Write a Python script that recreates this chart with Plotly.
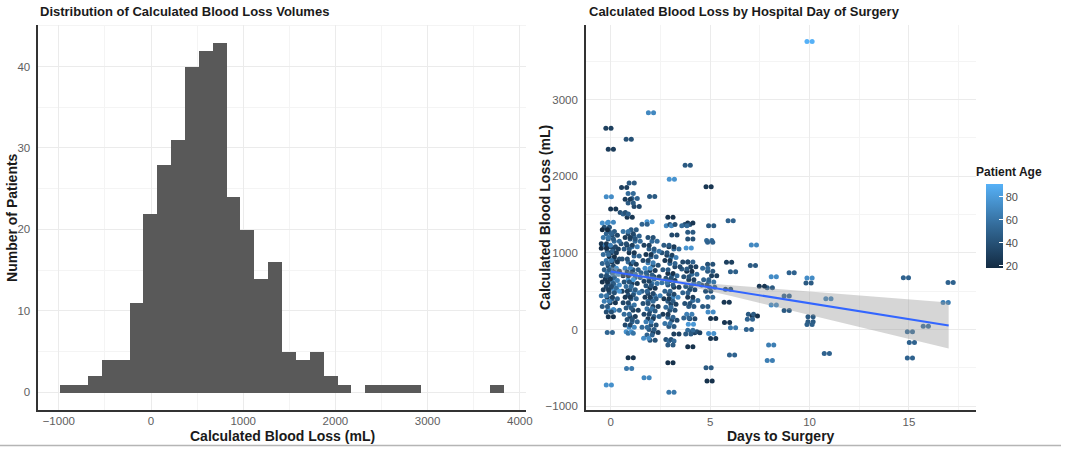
import numpy as np
import plotly.graph_objects as go

# ---------------- Histogram data ----------------
bin_start = -982.0
bin_width = 150.4
hist_counts = [1, 1, 2, 4, 4, 11, 22, 28, 31, 40, 42, 43, 24, 20, 14, 16, 5, 4, 5, 2, 1,
               0, 1, 1, 1, 1, 0, 0, 0, 0, 0, 1]
hist_xticks = [-1000, 0, 1000, 2000, 3000, 4000]
hist_yticks = [0, 10, 20, 30, 40]

# ---------------- Scatter data (jittered day, blood loss mL, age) ----------------
day0_x = [-0.12, 0.0, -0.1, 0.12, -0.3, 0.0, -0.2, -0.3, 0.05, -0.1,
          0.2, -0.25, 0.0, 0.3, -0.35, -0.15, 0.1, -0.35, 0.25, -0.05,
          0.15, -0.25, 0.05, 0.3, -0.1, 0.2, -0.3, 0.0, 0.15, -0.2,
          0.3, -0.05, 0.25, -0.35, 0.05, -0.15, 0.2, -0.3, 0.0, 0.3,
          -0.1, 0.15, -0.25, 0.3, 0.05, -0.35, -0.05, 0.2, -0.2, 0.1,
          -0.3, 0.0, 0.3, -0.1, 0.0, -0.05, -0.1]
day0_y = [2626, 2351, 1732, 1571, 1390, 1398, 1333, 1300, 1280, 1250,
          1230, 1200, 1180, 1150, 1120, 1100, 1080, 1060, 1050, 1020,
          1000, 980, 950, 920, 900, 880, 860, 830, 800, 780,
          760, 740, 720, 700, 680, 660, 640, 620, 600, 580,
          560, 540, 520, 500, 480, 440, 420, 400, 370, 350,
          300, 260, 250, 230, 165, -39, -723]
day0_age = [30, 28, 72, 25, 75, 70, 40, 18, 45, 50,
            35, 60, 45, 55, 25, 65, 35, 20, 30, 48,
            28, 55, 22, 40, 62, 25, 50, 35, 75, 45,
            30, 58, 80, 40, 52, 26, 65, 22, 45, 70,
            35, 55, 28, 78, 40, 60, 30, 50, 65, 25,
            45, 72, 55, 38, 22, 52, 74]

day1_x = [0.9, 1.05, 0.67, 1.0, 1.2, 0.85, 1.0, 1.3, 0.6, 0.75,
          0.95, 1.15, 0.75, 1.0, 1.3, 0.85, 1.1, 1.35, 0.65, 0.95,
          1.2, 0.8, 1.05, 1.3, 0.7, 1.0, 1.15, 0.85, 1.25, 0.95,
          1.1, 0.75, 1.35, 1.0, 0.8, 1.2, 0.9, 1.1, 0.7, 1.3,
          1.0, 0.85, 1.15, 0.75, 1.05, 0.9, 1.25, 0.8, 1.1, 0.95,
          1.2, 0.85, 1.05, 0.9, 1.0, 1.0, 0.92]
day1_y = [2483, 1911, 1853, 1775, 1710, 1700, 1650, 1606, 1528, 1506,
          1463, 1300, 1280, 1250, 1220, 1200, 1180, 1150, 1120, 1100,
          1080, 1050, 1000, 960, 920, 880, 850, 800, 780, 750,
          720, 700, 680, 650, 620, 600, 560, 520, 500, 480,
          450, 420, 400, 350, 320, 280, 250, 200, 170, 130,
          100, 60, 30, -30, -50, -368, -507]
day1_age = [40, 45, 30, 55, 50, 28, 45, 35, 40, 50,
            25, 45, 60, 35, 50, 28, 42, 55, 38, 30,
            65, 45, 25, 50, 40, 55, 30, 70, 45, 35,
            60, 22, 50, 80, 40, 28, 55, 45, 30, 65,
            40, 25, 50, 35, 60, 45, 30, 55, 28, 40,
            50, 35, 70, 75, 60, 22, 62]

day2_x = [2.02, 2.08, 1.95, 1.7, 2.0, 2.2, 1.8, 2.05, 2.3, 1.9,
          2.15, 1.75, 2.0, 2.25, 1.85, 2.1, 1.65, 1.95, 2.3, 2.05,
          1.8, 2.2, 1.9, 2.1, 1.7, 2.0, 2.35, 1.85, 2.15, 2.0,
          1.75, 2.25, 1.95, 2.1, 1.8, 2.3, 2.0, 1.9, 2.15, 1.7,
          2.05, 2.25, 1.95, 1.78, 2.1, 1.8]
day2_y = [2827, 1736, 1407, 1372, 1200, 1150, 1100, 1050, 1020, 980,
          950, 900, 870, 840, 800, 770, 740, 710, 690, 660,
          630, 600, 570, 540, 500, 470, 440, 420, 400, 370,
          340, 300, 270, 240, 200, 170, 140, 100, 60, 30,
          0, -40, -70, -113, -140, -628]
day2_age = [70, 45, 78, 50, 40, 55, 30, 45, 60, 25,
            50, 35, 65, 40, 75, 28, 50, 45, 35, 55,
            30, 60, 42, 25, 50, 35, 65, 28, 45, 55,
            40, 30, 60, 45, 35, 50, 28, 65, 40, 55,
            45, 30, 50, 72, 40, 70]

day3_x = [3.07, 3.0, 2.92, 3.1, 3.2, 2.8, 3.05, 3.3, 2.7, 2.95,
          3.15, 2.85, 3.1, 3.35, 2.75, 3.0, 3.2, 2.9, 3.1, 2.7,
          3.0, 3.3, 2.85, 3.05, 3.25, 2.8, 3.0, 3.15, 2.9, 3.1,
          2.75, 3.0, 3.2, 2.85, 3.05, 3.3, 2.9, 3.05, 3.0, 3.0,
          3.05]
day3_y = [1961, 1463, 1355, 1370, 1234, 1100, 1080, 1050, 1000, 970,
          940, 900, 860, 820, 780, 730, 700, 670, 640, 610,
          580, 550, 500, 460, 420, 400, 370, 330, 290, 250,
          200, 160, 120, 80, 40, -60, -130, -150, -203, -433,
          -818]
day3_age = [76, 22, 70, 40, 35, 45, 28, 55, 40, 30,
            65, 25, 50, 35, 45, 22, 55, 40, 30, 60,
            45, 28, 50, 35, 70, 25, 45, 30, 55, 40,
            28, 50, 35, 60, 45, 30, 40, 55, 45, 22,
            62]

day4_x = [3.87, 3.85, 4.0, 3.7, 4.0, 4.0, 3.92, 3.75, 4.0, 4.15,
          3.7, 3.95, 4.2, 3.8, 4.05, 4.3, 3.9, 4.1, 3.75, 4.0,
          4.25, 3.85, 4.05, 3.95, 4.1, 3.8, 4.03, 4.2, 4.35, 4.0,
          3.9, 4.0]
day4_y = [2143, 1370, 1390, 1355, 1270, 1180, 1065, 880, 880, 820,
          790, 760, 720, 690, 650, 600, 560, 520, 480, 420,
          380, 340, 300, 200, 140, 150, 70, -30, -43, -9,
          -60, -225]
day4_age = [45, 40, 25, 55, 45, 40, 76, 35, 50, 30,
            45, 22, 55, 40, 30, 60, 45, 35, 50, 28,
            55, 40, 45, 65, 35, 50, 78, 40, 30, 55,
            45, 22]

day5_x = [4.92, 5.05, 4.95, 5.0, 5.0, 4.75, 5.0, 5.2, 4.8, 5.05,
          4.7, 5.1, 4.9, 5.0, 4.75, 5.02, 5.15, 5.05, 5.15, 4.92,
          4.97]
day5_y = [1861, 1355, 1160, 1138, 850, 800, 760, 700, 650, 620,
          580, 550, 500, 420, 300, 230, 143, -52, -117, -498,
          -671]
day5_age = [25, 45, 55, 50, 40, 55, 45, 30, 50, 60,
            35, 45, 40, 55, 45, 72, 22, 74, 24, 45,
            22]

late_x = [6.03, 5.95, 6.15, 5.9, 5.83, 5.85, 6.15, 6.1,
          7.2, 7.15, 6.95, 7.05, 7.25, 7.0,
          8.2, 7.6, 8.0, 8.2, 8.07, 8.0,
          8.85, 8.85, 9.1,
          10.0, 9.95, 10.0, 10.05, 10.05, 10.0,
          10.95, 10.87,
          14.85, 15.05, 15.15, 15.05,
          15.85,
          17.1, 16.85]
late_y = [1420, 879, 754, 526, 355, 91, 22, -333,
          1104, 835, 0, 200, 177, 134,
          689, 563, 545, 320, -203, -403,
          437, 247, 740,
          3757, 606, 671, 165, 100, 65,
          403, -312,
          675, -30, -169, -373,
          43,
          614, 351]
late_age = [50, 30, 48, 35, 25, 24, 62, 50,
            70, 45, 50, 45, 22, 50,
            72, 25, 45, 72, 65, 65,
            50, 45, 50,
            91, 45, 72, 45, 45, 48,
            68, 50,
            50, 55, 50, 50,
            55,
            50, 65]

# Linear fit with 95% CI band
fit_days = [0, 1, 2, 3, 4, 5, 6, 8, 10, 12, 14, 17]
fit_line = [758, 716, 675, 633, 592, 550, 509, 426, 343, 260, 177, 52]
fit_upper = [821, 760, 702, 654, 624, 601, 579, 537, 496, 456, 415, 354]
fit_lower = [695, 673, 648, 613, 560, 500, 439, 315, 190, 64, -61, -249]

scatter_xticks = [0, 5, 10, 15]
scatter_yticks = [-1000, 0, 1000, 2000, 3000]
age_ticks = [20, 40, 60, 80]

# ---------------- Assemble ----------------
groups = [(day0_x, day0_y, day0_age), (day1_x, day1_y, day1_age), (day2_x, day2_y, day2_age),
          (day3_x, day3_y, day3_age), (day4_x, day4_y, day4_age), (day5_x, day5_y, day5_age),
          (late_x, late_y, late_age)]
for gx, gy, ga in groups:
    assert len(gx) == len(gy) == len(ga), (len(gx), len(gy), len(ga))

sx = np.concatenate([np.array(g[0], float) for g in groups])
sy = np.concatenate([np.array(g[1], float) for g in groups])
sa = np.concatenate([np.array(g[2], float) for g in groups])

# each point rendered as a horizontal pair of dots (as in the reference)
pair_off = 0.13
px = np.concatenate([sx - pair_off, sx + pair_off])
py = np.concatenate([sy, sy])
pa = np.concatenate([sa, sa])

edges = bin_start + bin_width * np.arange(len(hist_counts))
centers = edges + bin_width / 2

FONT = "Liberation Sans, Arial, Helvetica, sans-serif"
TICK_COLOR = "#5e5e5e"
GRID = "#EBEBEB"
GRID_MINOR = "#F4F4F4"
AXIS_LINE = "#333333"

fig = go.Figure()

fig.add_trace(go.Bar(
    x=centers, y=hist_counts, width=bin_width,
    marker=dict(color="#595959", line=dict(width=0)),
    xaxis="x", yaxis="y", hoverinfo="x+y",
))

fig.add_trace(go.Scatter(
    x=px, y=py, mode="markers", xaxis="x2", yaxis="y2",
    marker=dict(
        size=5, color=pa,
        colorscale=[[0.0, "#132B43"], [0.5, "#336A98"], [1.0, "#56B1F7"]],
        line=dict(width=0),
        showscale=True,
        colorbar=dict(
            x=992 / 1067, xanchor="left", xpad=0,
            y=(450 - 185) / 450, yanchor="top", ypad=0,
            len=84 / 450, lenmode="fraction", thickness=17,
            outlinewidth=0, tickvals=age_ticks,
            ticks="inside", ticklen=4, tickcolor="white",
            tickfont=dict(size=11, color="#4d4d4d", family=FONT),
        ),
    ),
    hoverinfo="x+y",
))

fig.add_trace(go.Scatter(
    x=fit_days, y=fit_upper, mode="lines", line=dict(width=0, color="rgba(0,0,0,0)"),
    xaxis="x2", yaxis="y2", hoverinfo="skip",
))
fig.add_trace(go.Scatter(
    x=fit_days, y=fit_lower, mode="lines", line=dict(width=0, color="rgba(0,0,0,0)"),
    fill="tonexty", fillcolor="rgba(153,153,153,0.4)",
    xaxis="x2", yaxis="y2", hoverinfo="skip",
))
fig.add_trace(go.Scatter(
    x=fit_days, y=fit_line, mode="lines", line=dict(width=2, color="#3366FF"),
    xaxis="x2", yaxis="y2", hoverinfo="skip",
))

common_axis = dict(
    showgrid=True, gridcolor=GRID, gridwidth=1, zeroline=False,
    showline=True, linecolor=AXIS_LINE, linewidth=1.6,
    ticks="", tickfont=dict(size=11.5, color=TICK_COLOR, family=FONT),
)

fig.update_layout(
    width=1067, height=450,
    margin=dict(l=0, r=0, t=0, b=0),
    paper_bgcolor="white", plot_bgcolor="white",
    showlegend=False, bargap=0,
    font=dict(family=FONT),
    xaxis=dict(domain=[38.5 / 1067, 529.4 / 1067], range=[-1222.6, 4071.6],
               tickvals=hist_xticks, anchor="y", ticklabelstandoff=0,
               minor=dict(dtick=500, tick0=0, showgrid=True, gridcolor=GRID_MINOR, gridwidth=0.6),
               **common_axis),
    yaxis=dict(domain=[(450 - 411.7) / 450, (450 - 24.7) / 450], range=[-2.15, 45.15],
               tickvals=hist_yticks, anchor="x", ticklabelstandoff=4,
               minor=dict(dtick=5, tick0=0, showgrid=True, gridcolor=GRID_MINOR, gridwidth=0.6),
               **common_axis),
    xaxis2=dict(domain=[589.3 / 1067, 982 / 1067], range=[-1.25, 18.4],
                tickvals=scatter_xticks, anchor="y2", ticklabelstandoff=0,
                minor=dict(dtick=2.5, tick0=0, showgrid=True, gridcolor=GRID_MINOR, gridwidth=0.6),
                **common_axis),
    yaxis2=dict(domain=[(450 - 412.3) / 450, (450 - 25) / 450], range=[-1056, 3974],
                tickvals=scatter_yticks, anchor="x2", ticklabelstandoff=4,
                minor=dict(dtick=500, tick0=0, showgrid=True, gridcolor=GRID_MINOR, gridwidth=0.6),
                **common_axis),
)

ann = []
def text(x, y, s, size, xanchor="center", angle=0, color="#1a1a1a"):
    ann.append(dict(x=x / 1067, y=(450 - y) / 450, xref="paper", yref="paper",
                    text=s, showarrow=False, xanchor=xanchor, yanchor="middle",
                    textangle=angle, font=dict(size=size, color=color, family=FONT)))

text(38, 12, "<b>Distribution of Calculated Blood Loss Volumes</b>", 13, xanchor="left")
text(590, 12, "<b>Calculated Blood Loss by Hospital Day of Surgery</b>", 13, xanchor="left")
text(284, 437.5, "<b>Calculated Blood Loss (mL)</b>", 14)
text(785.6, 437.5, "<b>Days to Surgery</b>", 14)
text(12, 218, "<b>Number of Patients</b>", 14, angle=-90)
text(548, 218, "<b>Calculated Blood Loss (mL)</b>", 14, angle=-90)
text(980, 173, "<b>Patient Age</b>", 12, xanchor="left")
fig.update_layout(annotations=ann)

fig.add_shape(type="line", xref="paper", yref="paper", x0=0, x1=1,
              y0=2.4 / 450, y1=2.4 / 450, line=dict(color="#b5b5b5", width=1.5))

fig.write_html(
    "out.html",
    config={"displayModeBar": False},
    post_script="document.body.style.margin='0';document.body.style.overflow='hidden';",
)
